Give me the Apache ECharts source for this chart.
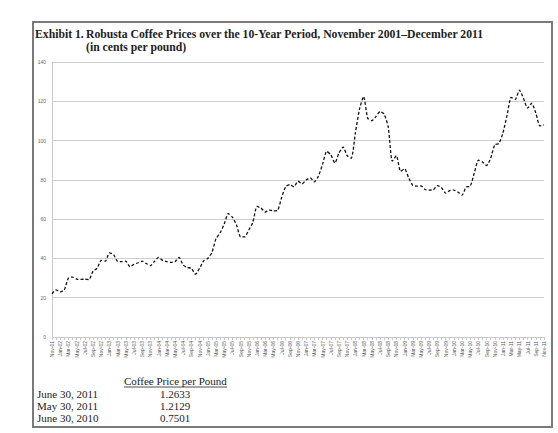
<!DOCTYPE html>
<html>
<head>
<meta charset="utf-8">
<script src="https://cdn.jsdelivr.net/npm/echarts@6/dist/echarts.min.js"></script>
<style>
  html, body { margin: 0; padding: 0; background: #fff; }
  #chart { width: 558px; height: 433px; }
</style>
</head>
<body>
<div id="chart"></div>
<script>
// Robusta coffee prices, cents per pound, monthly Nov-01 .. Nov-11
const monthNames = ['Jan', 'Feb', 'Mar', 'Apr', 'May', 'Jun', 'Jul', 'Aug', 'Sep', 'Oct', 'Nov', 'Dec'];

const prices = [
  22, 24, 23, 24, 30, 30.5, 29.5, 29.3, 29.5, 29.2,
  33.5, 35, 39, 38.6, 42.8, 42, 38.5, 38.4, 38.6, 35.8,
  37, 37.8, 38.6, 37.4, 36.3, 38.5, 40.5, 39, 38.4, 38,
  38.4, 40.5, 36.6, 35.4, 35, 32, 35, 38.8, 40, 43,
  50, 53, 57.5, 62.8, 61, 57, 51, 51, 54.5, 58.5,
  66.5, 65.6, 63.6, 64.6, 64.2, 64.4, 71, 76.5, 77.6, 76.5,
  79.3, 78, 80, 81, 79, 82, 88, 94.5, 92.8, 88.6,
  93.7, 96.7, 92.3, 91, 104, 116, 122.4, 111.4, 110.2, 112.2,
  114.8, 113.5, 107, 89.5, 92.3, 84.4, 85.6, 81, 77.2, 76.8,
  76.9, 75.1, 74.8, 75, 77.1, 76, 73.2, 74.5, 74.8, 73.8,
  72.2, 76.3, 76.8, 83.5, 90, 89.1, 87.3, 91.1, 97.9, 98.5,
  104, 113, 122, 121, 125.7, 121.5, 116.5, 119, 114, 107.5,
  108
];

// month labels like "Nov-01"
const months = prices.map((_, i) => {
  const m = (10 + i) % 12;
  const y = 2001 + Math.floor((10 + i) / 12);
  return monthNames[m] + '-' + String(y % 100).padStart(2, '0');
});

const exhibitLabel = 'Exhibit 1.';
const titleLine1 = 'Robusta Coffee Prices over the 10-Year Period, November 2001\u2013December 2011';
const titleLine2 = '(in cents per pound)';

const tableHeader = 'Coffee Price per Pound';
const tableDates = ['June 30, 2011', 'May 30, 2011', 'June 30, 2010'];
const tablePrices = ['1.2633', '1.2129', '0.7501'];

const serif = '"Liberation Serif", "DejaVu Serif", serif';
const sans = '"Liberation Sans", Arial, sans-serif';
const titleFont = 'bold 11.7px ' + serif;

const chart = echarts.init(document.getElementById('chart'), null, { renderer: 'svg' });

const graphics = [
  {
    type: 'rect',
    shape: { x: 33, y: 22, width: 519, height: 405 },
    style: { fill: 'none', stroke: '#7a7a7a', lineWidth: 2 },
    silent: true
  },
  {
    type: 'text', left: 35, top: 28,
    style: { text: exhibitLabel, font: titleFont, fill: '#222' }
  },
  {
    type: 'text', left: 86, top: 28,
    style: { text: titleLine1, font: titleFont, fill: '#222' }
  },
  {
    type: 'text', left: 86, top: 41,
    style: { text: titleLine2, font: titleFont, fill: '#222' }
  },
  {
    type: 'text', left: 124, top: 375,
    style: { text: tableHeader, font: '11px ' + serif, fill: '#222' }
  },
  {
    type: 'line',
    shape: { x1: 124, y1: 387, x2: 227, y2: 387 },
    style: { stroke: '#222', lineWidth: 0.8 }
  }
];

tableDates.forEach((d, i) => {
  graphics.push({
    type: 'text', left: 37, top: 388 + i * 12,
    style: { text: d, font: '11px ' + serif, fill: '#222' }
  });
  graphics.push({
    type: 'text', left: 160, top: 388 + i * 12,
    style: { text: tablePrices[i], font: '11px ' + serif, fill: '#222' }
  });
});

const option = {
  animation: false,
  backgroundColor: '#fff',
  grid: { left: 52, right: 14, top: 62, bottom: 96 },
  xAxis: {
    type: 'category',
    data: months,
    boundaryGap: false,
    axisLine: { lineStyle: { color: '#c8c8c8', width: 1 } },
    axisTick: { interval: 0, length: 3, lineStyle: { color: '#c8c8c8' } },
    axisLabel: {
      interval: 1,
      rotate: 90,
      fontSize: 5,
      color: '#555',
      fontFamily: sans,
      margin: 4
    },
    splitLine: { show: false }
  },
  yAxis: {
    type: 'value',
    min: 0,
    max: 140,
    interval: 20,
    axisLine: { show: true, lineStyle: { color: '#c8c8c8', width: 1 } },
    axisTick: { show: false },
    axisLabel: { fontSize: 5, color: '#666', fontFamily: sans, margin: 6 },
    splitLine: { lineStyle: { color: '#cfcfcf', width: 1 } }
  },
  series: [
    {
      type: 'line',
      data: prices,
      showSymbol: false,
      smooth: 0.2,
      lineStyle: { color: '#111', width: 1.3, type: [3, 2] }
    }
  ],
  graphic: graphics
};

chart.setOption(option);
</script>
</body>
</html>
